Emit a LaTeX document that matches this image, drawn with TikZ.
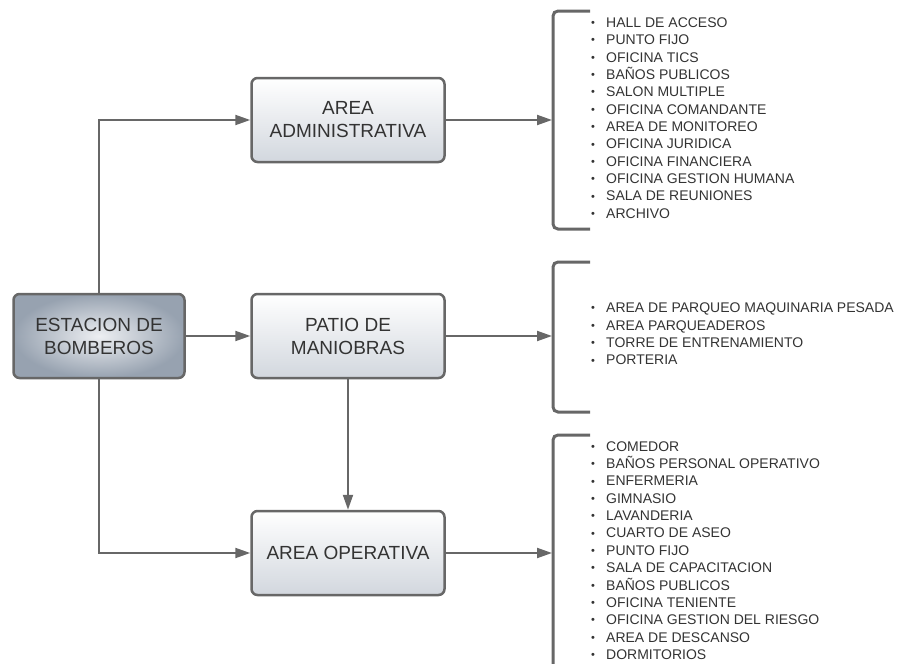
\documentclass[tikz,border=0pt]{standalone}
\usepackage{fontspec}
\setmainfont{Liberation Sans}
\usetikzlibrary{arrows.meta}

\definecolor{lineGray}{HTML}{676767}
\definecolor{textGray}{HTML}{333333}
\definecolor{boxBottom}{HTML}{D2D7DE}
\definecolor{rootEdge}{HTML}{97A2B0}
\definecolor{rootCenter}{HTML}{EDEFF2}

\newcommand{\itm}[1]{\makebox[15pt][l]{\raisebox{0.8pt}{\fontsize{11}{11}\selectfont •}}#1}

\tikzset{
  area/.style={draw=lineGray, line width=2.5pt, rounded corners=6pt, top color=white, bottom color=boxBottom,
    minimum width=193pt, minimum height=84pt, align=center, text=textGray, font=\fontsize{19}{23}\selectfont},
  root/.style={area, inner color=rootCenter, outer color=rootEdge, minimum width=171pt},
  link/.style={draw=lineGray, line width=2pt, -{Triangle[length=15pt,width=10pt]}},
  brace/.style={draw=lineGray, line width=3pt, rounded corners=5pt},
  items/.style={anchor=west, inner sep=0pt, align=left, text=textGray, font=\fontsize{14}{17.35}\selectfont}
}

\begin{document}
\begin{tikzpicture}[x=1pt, y=-1pt]
  \useasboundingbox (0,0) rectangle (903,664);

  \node[root] (est) at (99,336) {ESTACION DE\\BOMBEROS};
  \node[area] (adm) at (348,120) {AREA\\ADMINISTRATIVA};
  \node[area] (pat) at (348,336) {PATIO DE\\MANIOBRAS};
  \node[area] (ope) at (348,553) {AREA OPERATIVA};

  % brackets
  \draw[brace] (590,11) -| (553,229) -- (590,229);
  \draw[brace] (590,262) -| (553,412) -- (590,412);
  \draw[brace] (590,435) -| (553,670);
  \coordinate (bAdm) at (552,120);
  \coordinate (bPat) at (552,336);
  \coordinate (bOpe) at (552,553);

  \draw[link] (est.north) |- (adm.west);
  \draw[link] (est.east) -- (pat.west);
  \draw[link] (est.south) |- (ope.west);
  \draw[link] (pat.south) -- (ope.north);
  \draw[link] (adm.east) -- (bAdm);
  \draw[link] (pat.east) -- (bPat);
  \draw[link] (ope.east) -- (bOpe);

  \node[items] (lAdm) at (591,118) {\itm{HALL DE ACCESO}\\\itm{PUNTO FIJO}\\\itm{OFICINA TICS}\\\itm{BAÑOS PUBLICOS}\\
    \itm{SALON MULTIPLE}\\\itm{OFICINA COMANDANTE}\\\itm{AREA DE MONITOREO}\\\itm{OFICINA JURIDICA}\\
    \itm{OFICINA FINANCIERA}\\\itm{OFICINA GESTION HUMANA}\\\itm{SALA DE REUNIONES}\\\itm{ARCHIVO}};
  \node[items] (lPat) at (591,334) {\itm{AREA DE PARQUEO MAQUINARIA PESADA}\\\itm{AREA PARQUEADEROS}\\
    \itm{TORRE DE ENTRENAMIENTO}\\\itm{PORTERIA}};
  \node[items] (lOpe) at (591,550.5) {\itm{COMEDOR}\\\itm{BAÑOS PERSONAL OPERATIVO}\\\itm{ENFERMERIA}\\\itm{GIMNASIO}\\
    \itm{LAVANDERIA}\\\itm{CUARTO DE ASEO}\\\itm{PUNTO FIJO}\\\itm{SALA DE CAPACITACION}\\\itm{BAÑOS PUBLICOS}\\
    \itm{OFICINA TENIENTE}\\\itm{OFICINA GESTION DEL RIESGO}\\\itm{AREA DE DESCANSO}\\\itm{DORMITORIOS}};
\end{tikzpicture}
\end{document}
